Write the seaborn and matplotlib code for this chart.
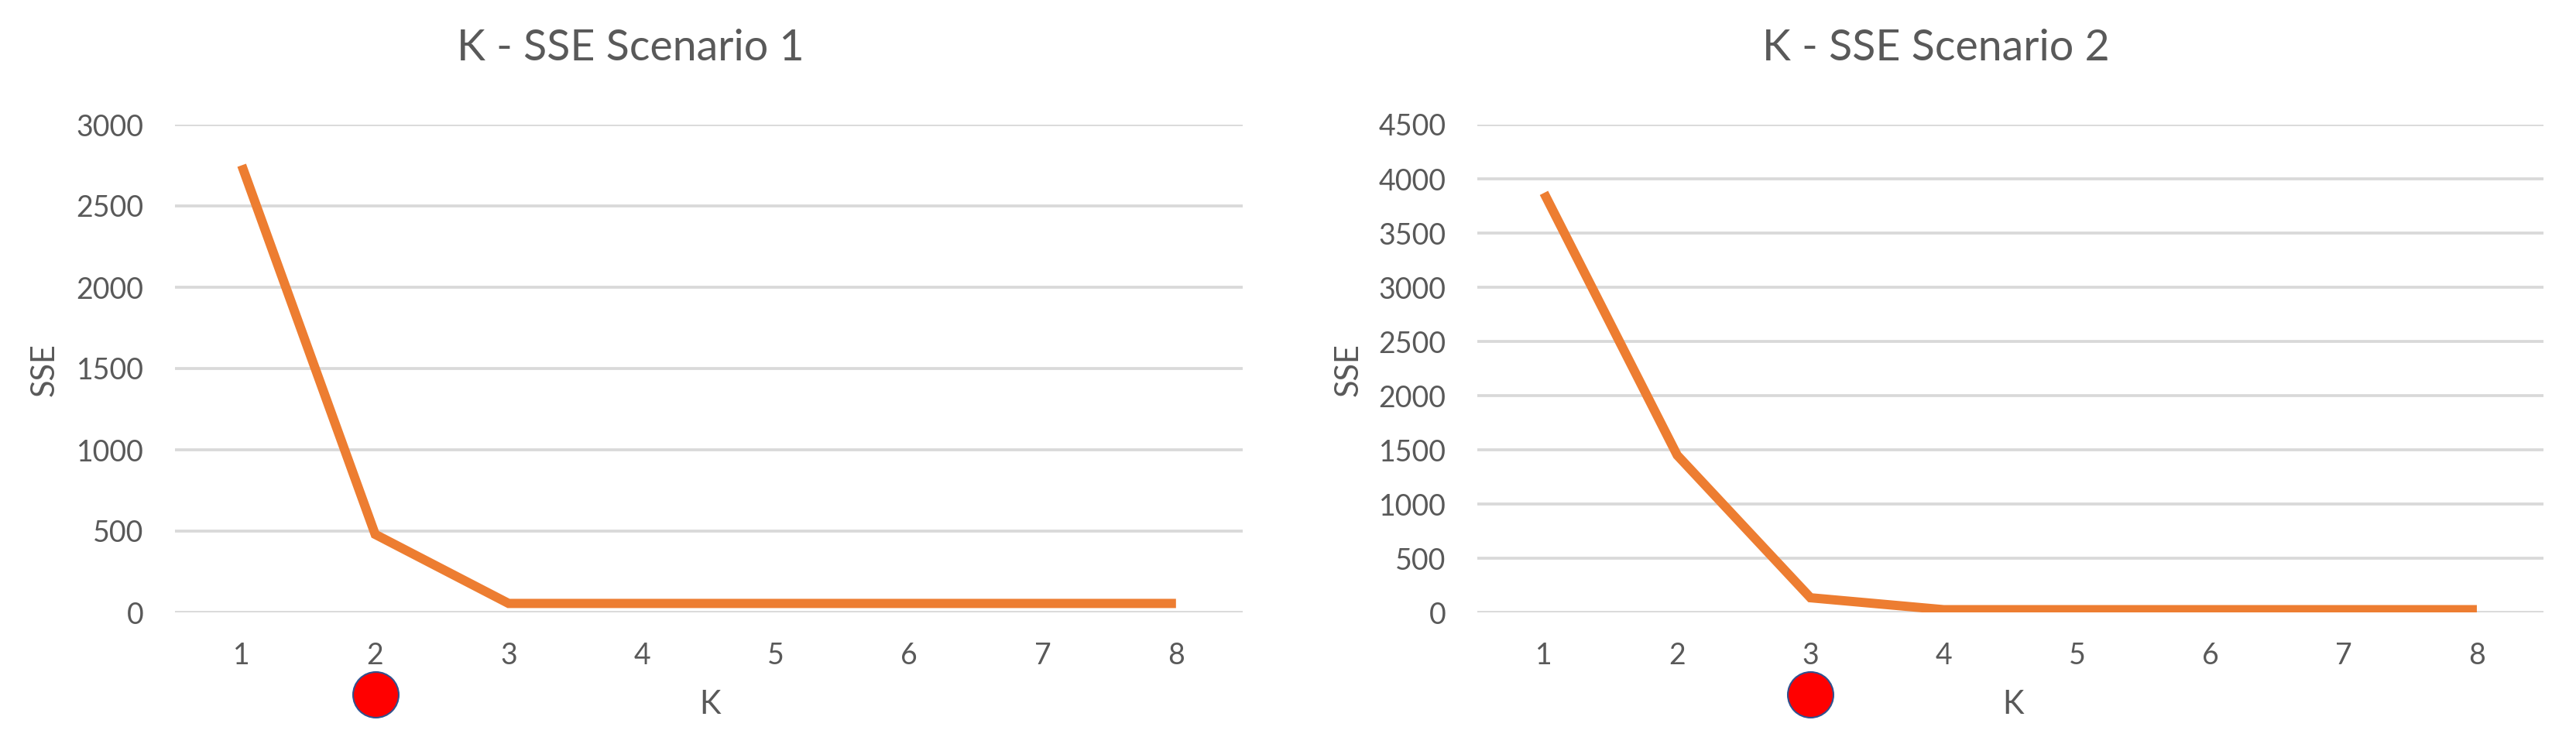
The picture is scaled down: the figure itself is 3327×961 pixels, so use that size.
import numpy as np
import pandas as pd
import matplotlib
matplotlib.use("Agg")
import matplotlib.pyplot as plt
import seaborn as sns

# K values and SSE
k_values = [1, 2, 3, 4, 5, 6, 7, 8]
sse_scenario1 = [2750, 480, 55, 55, 55, 55, 55, 55]
sse_scenario2 = [3870, 1450, 135, 25, 25, 25, 25, 25]
titles = ["K - SSE Scenario 1", "K - SSE Scenario 2"]
y_max = [3000, 4500]
elbow_k = [2, 3]

sns.set_theme(style="white")
plt.rcParams['font.family'] = ['Lato', 'DejaVu Sans']

text_color = "#595959"
line_color = "#ED7D31"
grid_color = "#D9D9D9"

fig = plt.figure(figsize=(33.27, 9.61), dpi=100)

axes_left = [226 / 3327, 1908 / 3327]
axes_width = [1379 / 3327, 1377 / 3327]
title_x = [814 / 3327, 2500 / 3327]
ylabel_x = [58 / 3327, 1742 / 3327]
xlabel_x = [917 / 3327, 2600 / 3327]
bottom = 1 - 791 / 961
height = (791 - 161) / 961

series = [sse_scenario1, sse_scenario2]

for i in range(2):
    ax = fig.add_axes([axes_left[i], bottom, axes_width[i], height])
    df = pd.DataFrame({"K": k_values, "SSE": series[i]})
    sns.lineplot(data=df, x="K", y="SSE", ax=ax, color=line_color,
                 linewidth=8.6, solid_capstyle="butt", solid_joinstyle="miter")

    ax.set_xlim(0.5, 8.5)
    ax.set_ylim(0, y_max[i])
    ax.set_xticks(k_values)
    ax.set_yticks(np.arange(0, y_max[i] + 1, 500))
    ax.yaxis.grid(True, color=grid_color, linewidth=2.7)
    ax.set_axisbelow(True)
    for s in ax.spines.values():
        s.set_visible(False)
    ax.tick_params(axis="both", length=0, labelsize=27, labelcolor=text_color)
    ax.tick_params(axis="y", pad=29)
    ax.tick_params(axis="x", pad=27)
    ax.set_xlabel("")
    ax.set_ylabel("")

    # red marker under the chosen K
    ax.scatter([elbow_k[i]], [-0.168], transform=ax.get_xaxis_transform(),
               s=1800, color="#FF0000", edgecolor="#2F528F", linewidth=1.5,
               clip_on=False, zorder=5)

    fig.text(title_x[i], 1 - 62 / 961, titles[i], ha="center", va="center",
             fontsize=40, color=text_color)
    fig.text(ylabel_x[i], 1 - 478 / 961, "SSE", rotation=90, ha="center",
             va="center", fontsize=30, color=text_color)
    fig.text(xlabel_x[i], 1 - 910 / 961, "K", ha="center", va="center",
             fontsize=30, color=text_color)

fig.savefig("out.png", dpi=100)
